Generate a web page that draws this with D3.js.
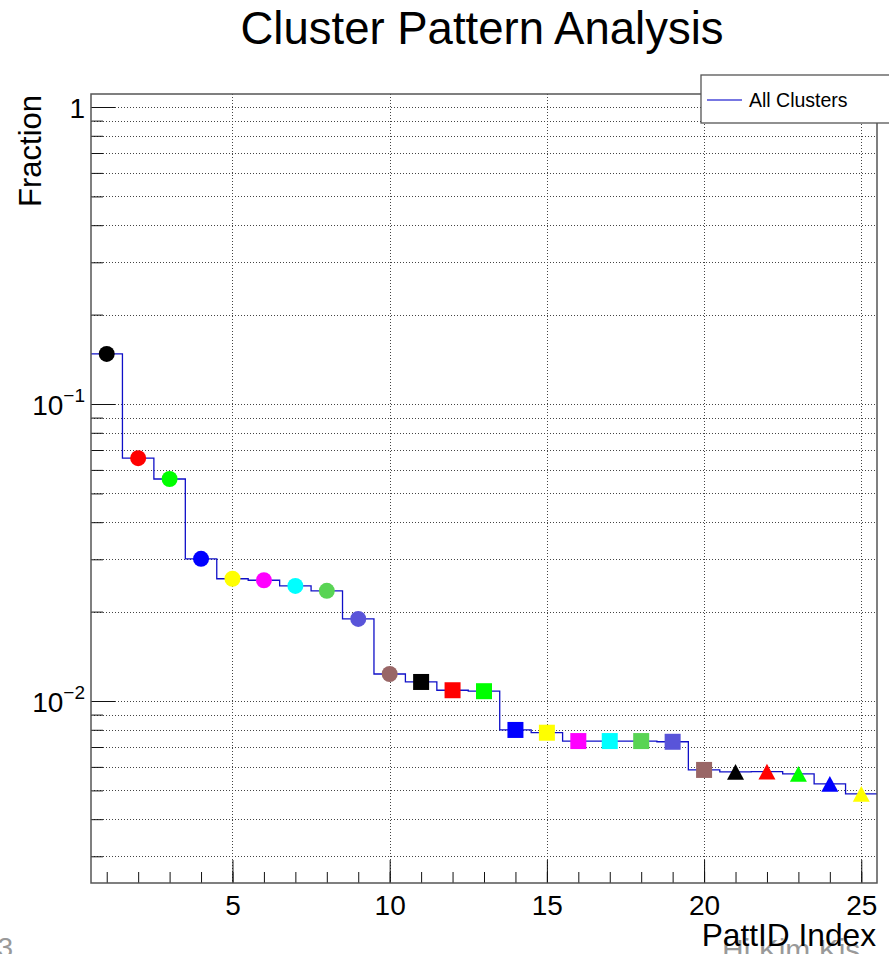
<!DOCTYPE html>
<html>
<head>
<meta charset="utf-8">
<script src="https://cdn.jsdelivr.net/npm/d3@7"></script>
<style>
  html, body { margin: 0; padding: 0; background: #fff; }
  svg { display: block; font-family: "Liberation Sans", Arial, Helvetica, sans-serif; }
</style>
</head>
<body>
<svg id="chart" width="889" height="954"></svg>
<script>
// Pattern indices and the fraction of clusters in each pattern
const pattIds = [1, 2, 3, 4, 5, 6, 7, 8, 9, 10, 11, 12, 13, 14, 15, 16, 17, 18, 19, 20, 21, 22, 23, 24, 25];
const fractions = [0.1474, 0.0657, 0.0559, 0.0301, 0.0258, 0.0255, 0.0244, 0.0235, 0.0189, 0.01233,
                   0.01159, 0.01087, 0.01079, 0.00799, 0.00782, 0.00733, 0.00733, 0.00733, 0.00729, 0.00586,
                   0.00577, 0.00578, 0.00568, 0.00526, 0.00487];
// Marker style per pattern
const markerColors = ["#000000", "#ff0000", "#00ff00", "#0000ff", "#ffff00", "#ff00ff", "#00ffff", "#59d454", "#5954d9", "#996666",
                      "#000000", "#ff0000", "#00ff00", "#0000ff", "#ffff00", "#ff00ff", "#00ffff", "#59d454", "#5954d9", "#996666",
                      "#000000", "#ff0000", "#00ff00", "#0000ff", "#ffff00"];
const markerShapes = ["circle", "circle", "circle", "circle", "circle", "circle", "circle", "circle", "circle", "circle",
                      "square", "square", "square", "square", "square", "square", "square", "square", "square", "square",
                      "triangle", "triangle", "triangle", "triangle", "triangle"];
const xTickValues = [5, 10, 15, 20, 25];
const yMajorTicks = [1, 0.1, 0.01];
const yMajorLabels = [{base: "1", exp: ""}, {base: "10", exp: "\u22121"}, {base: "10", exp: "\u22122"}];
const xDomain = [0.5, 25.5];
const yDomain = [Math.pow(10, -2.6128), Math.pow(10, 0.0438)];

const svg = d3.select("#chart");
const frame = {left: 91, right: 877, top: 94, bottom: 883};

const x = d3.scaleLinear().domain(xDomain).range([frame.left, frame.right]);
const y = d3.scaleLog().domain(yDomain).range([frame.bottom, frame.top]);

// All log ticks 1..9 per decade inside the domain
const yAllTicks = [];
for (let e = -3; e <= 0; e++) {
  for (let m = 1; m <= 9; m++) {
    const v = m * Math.pow(10, e);
    if (v >= yDomain[0] && v <= yDomain[1]) yAllTicks.push(v);
  }
}
const xMinorTicks = d3.range(1, 26);

// Grid
const grid = svg.append("g").attr("stroke", "#444").attr("stroke-width", 1).attr("stroke-dasharray", "1 2");
grid.selectAll("line.h").data(yAllTicks).join("line")
  .attr("x1", frame.left).attr("x2", frame.right)
  .attr("y1", d => Math.round(y(d)) + 0.5).attr("y2", d => Math.round(y(d)) + 0.5);
grid.selectAll("line.v").data(xTickValues).join("line")
  .attr("y1", frame.top).attr("y2", frame.bottom)
  .attr("x1", d => Math.round(x(d)) + 0.5).attr("x2", d => Math.round(x(d)) + 0.5);

// Axes
const xAxisMinor = d3.axisBottom(x).tickValues(xMinorTicks).tickSize(-11).tickFormat("");
const xAxisMajor = d3.axisBottom(x).tickValues(xTickValues).tickSize(-23).tickFormat(d3.format("d"));
const yAxisMinor = d3.axisLeft(y).tickValues(yAllTicks).tickSize(-12).tickFormat("");
const yAxisMajor = d3.axisLeft(y).tickValues(yMajorTicks).tickSize(-24).tickFormat("");

function styleAxis(g) {
  g.select(".domain").remove();
  g.selectAll(".tick line").attr("stroke", "#111").attr("stroke-width", 1);
}
svg.append("g").attr("transform", `translate(0,${frame.bottom})`).call(xAxisMinor).call(styleAxis);
const gx = svg.append("g").attr("transform", `translate(0,${frame.bottom})`).call(xAxisMajor).call(styleAxis);
gx.selectAll(".tick text").attr("font-size", 28).attr("fill", "#000")
  .attr("font-family", "Liberation Sans, Arial, sans-serif").attr("dy", 0).attr("y", 32);
svg.append("g").attr("transform", `translate(${frame.left},0)`).call(yAxisMinor).call(styleAxis);
svg.append("g").attr("transform", `translate(${frame.left},0)`).call(yAxisMajor).call(styleAxis);

// Y labels as powers of ten
const yl = svg.append("g").attr("font-size", 28).attr("fill", "#000");
yMajorTicks.forEach((v, i) => {
  const lab = yMajorLabels[i];
  const t = yl.append("text").attr("text-anchor", "end").attr("x", 85).attr("y", y(v) + 11);
  t.append("tspan").text(lab.base);
  if (lab.exp) {
    t.append("tspan").attr("font-size", 19).attr("dy", -13).text(lab.exp);
  }
});

// Step histogram
const stepPts = [];
pattIds.forEach((p, i) => {
  stepPts.push([p - 0.5, fractions[i]]);
  stepPts.push([p + 0.5, fractions[i]]);
});
const line = d3.line().x(d => x(d[0])).y(d => y(d[1]));
svg.append("path").datum(stepPts).attr("d", line)
  .attr("fill", "none").attr("stroke", "#1010c8").attr("stroke-width", 1.3);

// Markers
const triangleBox = {
  draw(ctx, size) {
    const w = Math.sqrt(size);
    const h = w * 0.93;
    ctx.moveTo(0, -h / 2);
    ctx.lineTo(w / 2, h / 2);
    ctx.lineTo(-w / 2, h / 2);
    ctx.closePath();
  }
};
const symbolFor = {
  circle: d3.symbol().type(d3.symbolCircle).size(Math.PI * 8 * 8),
  square: d3.symbol().type(d3.symbolSquare).size(16 * 16),
  triangle: d3.symbol().type(triangleBox).size(17 * 17)
};
svg.append("g").selectAll("path").data(pattIds).join("path")
  .attr("transform", (d, i) => `translate(${x(d)},${y(fractions[i])})`)
  .attr("d", (d, i) => symbolFor[markerShapes[i]]())
  .attr("fill", (d, i) => markerColors[i]);

// Frame
svg.append("rect")
  .attr("x", frame.left).attr("y", frame.top)
  .attr("width", frame.right - frame.left).attr("height", frame.bottom - frame.top)
  .attr("fill", "none").attr("stroke", "#555").attr("stroke-width", 1.5);

// Legend
const lg = svg.append("g");
lg.append("rect").attr("x", 701).attr("y", 75).attr("width", 200).attr("height", 48)
  .attr("fill", "#fff").attr("stroke", "#555").attr("stroke-width", 1.3);
lg.append("line").attr("x1", 707).attr("x2", 742).attr("y1", 100).attr("y2", 100)
  .attr("stroke", "#4a4ad8").attr("stroke-width", 1.3);
lg.append("text").attr("x", 749).attr("y", 107).attr("font-size", 19.5).attr("fill", "#000").text("All Clusters");

// Title and axis titles
svg.append("text").attr("x", 482).attr("y", 44).attr("text-anchor", "middle")
  .attr("font-size", 45.5).attr("fill", "#000").text("Cluster Pattern Analysis");
svg.append("text").attr("transform", "translate(41,95) rotate(-90)").attr("text-anchor", "end")
  .attr("font-size", 31).attr("fill", "#000").text("Fraction");

// Faint footer texts
svg.append("text").attr("x", 13).attr("y", 957).attr("text-anchor", "end")
  .attr("font-size", 28).attr("fill", "#999").text("3");
svg.append("text").attr("x", 722).attr("y", 960)
  .attr("font-size", 30).attr("fill", "#999").text("Hi Kim Kis");

svg.append("text").attr("x", 876).attr("y", 946).attr("text-anchor", "end")
  .attr("font-size", 31.7).attr("fill", "#000").text("PattID Index");
</script>
</body>
</html>
